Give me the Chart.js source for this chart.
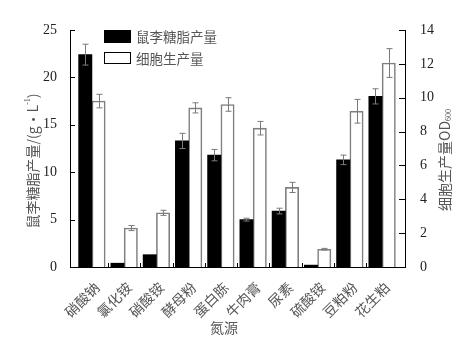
<!DOCTYPE html>
<html>
<head>
<meta charset="utf-8">
<script src="https://cdn.jsdelivr.net/npm/chart.js@4.4.1/dist/chart.umd.min.js"></script>
<style>
  html, body { margin: 0; padding: 0; background: #fff; }
</style>
</head>
<body>
<canvas id="chart" width="459" height="338"></canvas>
<script>
// data
const nitrogenSources = ["硝酸钠", "氯化铵", "硝酸铵", "酵母粉", "蛋白胨", "牛肉膏", "尿素", "硫酸铵", "豆粕粉", "花生粕"];
const rhamnolipid = [22.4, 0.4, 1.3, 13.3, 11.8, 5.0, 5.9, 0.2, 11.3, 18.0];
const rhamnolipidErr = [1.1, 0, 0, 0.8, 0.6, 0.15, 0.3, 0, 0.5, 0.8];
const cellOD = [9.8, 2.3, 3.2, 9.4, 9.6, 8.2, 4.7, 1.05, 9.2, 12.05];
const cellODErr = [0.4, 0.15, 0.15, 0.3, 0.4, 0.4, 0.3, 0.05, 0.7, 0.85];
const leftTicks = [0, 5, 10, 15, 20, 25];
const rightTicks = [0, 2, 4, 6, 8, 10, 12, 14];

const numFont = '"Liberation Serif", "DejaVu Serif", serif';
const cjkFont = '"Noto Sans CJK SC", sans-serif';
const textGray = "#555";

// error bars, inward tick marks, titles and legend
const decor = {
    id: "decor",
    afterDatasetsDraw(chart) {
        const ctx = chart.ctx;
        const sets = [
            [0, rhamnolipid, rhamnolipidErr, chart.scales.y],
            [1, cellOD, cellODErr, chart.scales.y1]
        ];
        ctx.save();
        ctx.strokeStyle = "#7a7a7a";
        ctx.lineWidth = 1;
        sets.forEach(([di, vals, errs, sc]) => {
            chart.getDatasetMeta(di).data.forEach((bar, i) => {
                if (!errs[i]) return;
                const cx = Math.round(bar.x) + 0.5;
                const top = sc.getPixelForValue(vals[i] + errs[i]);
                const bot = sc.getPixelForValue(vals[i] - errs[i]);
                ctx.beginPath();
                ctx.moveTo(cx, top); ctx.lineTo(cx, bot);
                ctx.moveTo(cx - 3, top); ctx.lineTo(cx + 3, top);
                ctx.moveTo(cx - 3, bot); ctx.lineTo(cx + 3, bot);
                ctx.stroke();
            });
        });
        ctx.restore();
    },
    afterDraw(chart) {
        const ctx = chart.ctx;
        const a = chart.chartArea;
        const x = chart.scales.x, y = chart.scales.y, y1 = chart.scales.y1;
        ctx.save();
        ctx.strokeStyle = "#000";
        ctx.lineWidth = 1;
        ctx.beginPath();
        leftTicks.forEach(v => {
            const py = Math.round(y.getPixelForValue(v)) + 0.5;
            ctx.moveTo(a.left, py); ctx.lineTo(a.left + 5, py);
        });
        rightTicks.forEach(v => {
            const py = Math.round(y1.getPixelForValue(v)) + 0.5;
            ctx.moveTo(a.right, py); ctx.lineTo(a.right - 6, py);
        });
        for (let i = 0; i < nitrogenSources.length - 1; i++) {
            const px = Math.round(x.getPixelForValue(i + 0.5)) + 0.5;
            ctx.moveTo(px, a.bottom); ctx.lineTo(px, a.bottom - 4);
        }
        ctx.stroke();

        // left title
        ctx.fillStyle = textGray;
        ctx.textBaseline = "middle";
        ctx.textAlign = "left";
        ctx.save();
        ctx.translate(33, 161);
        ctx.rotate(-Math.PI / 2);
        const big = "14px " + cjkFont, small = "8px " + numFont;
        ctx.font = big;
        const t1 = "鼠李糖脂产量/(g·L", t3 = ")";
        const w1 = ctx.measureText(t1).width, w3 = ctx.measureText(t3).width;
        ctx.font = small;
        const w2 = ctx.measureText("-1").width;
        let sx = -(w1 + w2 + w3) / 2;
        ctx.font = big; ctx.fillText(t1, sx, 0);
        ctx.font = small; ctx.fillText("-1", sx + w1, -5);
        ctx.font = big; ctx.fillText(t3, sx + w1 + w2, 0);
        ctx.restore();

        // right title
        ctx.save();
        ctx.translate(445, 160);
        ctx.rotate(-Math.PI / 2);
        ctx.font = big;
        const r1 = "细胞生产量OD";
        const rw1 = ctx.measureText(r1).width;
        ctx.font = small;
        const rw2 = ctx.measureText("600").width;
        sx = -(rw1 + rw2) / 2;
        ctx.font = big; ctx.fillText(r1, sx, 0);
        ctx.font = small; ctx.fillText("600", sx + rw1, 4);
        ctx.restore();

        // x title
        ctx.font = "14px " + cjkFont;
        ctx.textAlign = "center";
        ctx.fillText("氮源", 224, 328);

        // legend
        ctx.fillStyle = "#000";
        ctx.fillRect(104, 30, 27, 13);
        ctx.strokeStyle = "#000";
        ctx.strokeRect(104.5, 52.5, 26, 11);
        ctx.fillStyle = textGray;
        ctx.textAlign = "left";
        ctx.font = "13.5px " + cjkFont;
        ctx.fillText("鼠李糖脂产量", 136, 37);
        ctx.fillText("细胞生产量", 136, 59);
        ctx.restore();
    }
};

new Chart(document.getElementById("chart"), {
    type: "bar",
    data: {
        datasets: [{
            label: "鼠李糖脂产量",
            data: rhamnolipid.map((v, i) => ({ x: i, y: v })),
            backgroundColor: "#000",
            borderWidth: 0,
            barThickness: 13.3,
            yAxisID: "y"
        }, {
            label: "细胞生产量",
            data: cellOD.map((v, i) => ({ x: i, y: v })),
            backgroundColor: "#fff",
            borderColor: "#7f7f7f",
            borderWidth: 1.6,
            barThickness: 13.3,
            yAxisID: "y1"
        }]
    },
    options: {
        responsive: false,
        animation: false,
        layout: { padding: { top: 30, left: 0, right: 0, bottom: 0 } },
        plugins: { legend: { display: false }, tooltip: { enabled: false } },
        scales: {
            x: {
                type: "linear",
                offset: false,
                bounds: "data",
                min: -0.68,
                max: 9.71,
                grid: { display: false, offset: false },
                border: { display: true, color: "#000", width: 1 },
                afterBuildTicks: s => { s.ticks = nitrogenSources.map((_, i) => ({ value: i })); },
                afterFit: s => { s.height = 71; },
                ticks: {
                    autoSkip: false,
                    minRotation: 45,
                    maxRotation: 45,
                    padding: 4,
                    labelOffset: 5,
                    color: textGray,
                    font: { family: cjkFont, size: 14 },
                    callback: v => nitrogenSources[v]
                }
            },
            y: {
                position: "left",
                min: 0,
                max: 25,
                grid: { display: false },
                border: { display: true, color: "#000", width: 1 },
                afterFit: s => { s.width = 70; },
                ticks: { stepSize: 5, padding: 5, color: "#222", font: { family: numFont, size: 14 } }
            },
            y1: {
                position: "right",
                min: 0,
                max: 14,
                grid: { display: false },
                border: { display: true, color: "#000", width: 1 },
                afterFit: s => { s.width = 54; },
                ticks: { stepSize: 2, padding: 7, color: "#222", font: { family: numFont, size: 14 } }
            }
        }
    },
    plugins: [decor]
});
</script>
</body>
</html>
